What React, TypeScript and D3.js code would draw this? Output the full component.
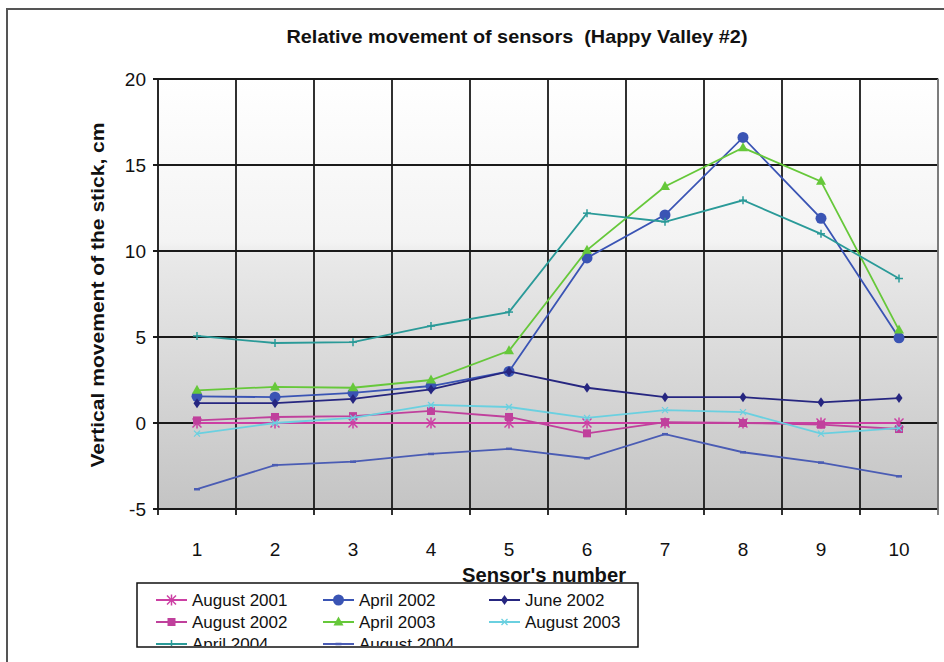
import React from "react";
import * as d3 from "d3";

const sensors = [1, 2, 3, 4, 5, 6, 7, 8, 9, 10];
const yTicks = [-5, 0, 5, 10, 15, 20];

const aug2001 = [0, 0, 0, 0, 0, 0, 0, 0, 0, 0];
const apr2002 = [1.55, 1.5, 1.75, 2.15, 3.0, 9.6, 12.1, 16.6, 11.9, 4.95];
const jun2002 = [1.15, 1.15, 1.4, 1.95, 3.0, 2.05, 1.5, 1.5, 1.2, 1.45];
const aug2002 = [0.15, 0.35, 0.4, 0.7, 0.35, -0.6, 0.05, 0.0, -0.1, -0.35];
const apr2003 = [1.9, 2.1, 2.05, 2.5, 4.2, 10.05, 13.75, 16.0, 14.05, 5.4];
const aug2003 = [-0.62, 0.0, 0.3, 1.05, 0.93, 0.3, 0.75, 0.63, -0.62, -0.3];
const apr2004 = [5.06, 4.65, 4.7, 5.64, 6.45, 12.2, 11.7, 12.95, 11.0, 8.4];
const aug2004 = [-3.85, -2.45, -2.25, -1.8, -1.5, -2.05, -0.65, -1.7, -2.3, -3.1];

const seriesNames = [
  "August 2001",
  "April 2002",
  "June 2002",
  "August 2002",
  "April 2003",
  "August 2003",
  "April 2004",
  "August 2004",
];
const seriesValues = [aug2001, apr2002, jun2002, aug2002, apr2003, aug2003, apr2004, aug2004];
const seriesColors = ["#cc3fa3", "#3a54b4", "#262680", "#c0409c", "#66c83a", "#6ad0e0", "#2a9a98", "#4a5cb4"];
const seriesMarkers = ["asterisk", "circle", "diamond", "square", "triangle", "x", "plus", "dash"];

const M = { left: 158, right: 938, top: 79, bottom: 509 };

function Marker({ type, x, y, color }: { type: string; x: number; y: number; color: string }) {
  switch (type) {
    case "asterisk":
      return (
        <g stroke={color} strokeWidth={1.5}>
          <line x1={x - 4.5} y1={y - 4.5} x2={x + 4.5} y2={y + 4.5} />
          <line x1={x - 4.5} y1={y + 4.5} x2={x + 4.5} y2={y - 4.5} />
          <line x1={x} y1={y - 5.5} x2={x} y2={y + 5.5} />
        </g>
      );
    case "circle":
      return <circle cx={x} cy={y} r={5.5} fill={color} />;
    case "diamond":
      return <path d={`M${x},${y - 5}L${x + 3.5},${y}L${x},${y + 5}L${x - 3.5},${y}Z`} fill={color} />;
    case "square":
      return <rect x={x - 4} y={y - 4} width={8} height={8} fill={color} />;
    case "triangle":
      return <path d={`M${x},${y - 5.5}L${x + 5},${y + 3.5}L${x - 5},${y + 3.5}Z`} fill={color} />;
    case "x":
      return (
        <g stroke={color} strokeWidth={1.3}>
          <line x1={x - 3} y1={y - 3} x2={x + 3} y2={y + 3} />
          <line x1={x - 3} y1={y + 3} x2={x + 3} y2={y - 3} />
        </g>
      );
    case "plus":
      return (
        <g stroke={color} strokeWidth={1.5}>
          <line x1={x} y1={y - 4} x2={x} y2={y + 4} />
          <line x1={x - 4} y1={y} x2={x + 4} y2={y} />
        </g>
      );
    case "dash":
      return <line x1={x - 3} y1={y} x2={x + 3} y2={y} stroke={color} strokeWidth={2.5} />;
    default:
      return null;
  }
}

export default function App() {
  const x = d3
    .scaleBand<number>()
    .domain(sensors)
    .range([M.left, M.right]);
  const cx = (s: number) => (x(s) as number) + x.bandwidth() / 2;
  const y = d3.scaleLinear().domain([-5, 20]).range([M.bottom, M.top]);
  const line = d3
    .line<number>()
    .x((_, i) => cx(sensors[i]))
    .y((d) => y(d));

  const gridX = sensors.map((s) => x(s) as number).concat([M.right]);

  const legendItems = seriesNames.map((name, i) => ({
    name,
    color: seriesColors[i],
    marker: seriesMarkers[i],
    col: i % 3,
    row: Math.floor(i / 3),
  }));
  const legendColX = [156, 323, 489];
  const legendRowY = [600, 622, 644];

  const font = "'Liberation Sans', Arial, sans-serif";

  return (
    <svg
      width={944}
      height={662}
      style={{ position: "absolute", left: 0, top: 0, background: "#fff" }}
      fontFamily={font}
    >
      <defs>
        <linearGradient id="bg" x1="0" y1="0" x2="0" y2="1">
          <stop offset="0" stopColor="#ffffff" />
          <stop offset="0.38" stopColor="#f3f3f3" />
          <stop offset="0.41" stopColor="#e9e9e9" />
          <stop offset="1" stopColor="#c4c4c4" />
        </linearGradient>
        <clipPath id="legclip">
          <rect x={138} y={584} width={499} height={62} />
        </clipPath>
      </defs>

      {/* outer chart border */}
      <rect x={7} y={9} width={960} height={700} fill="none" stroke="#555" strokeWidth={2} />

      {/* title */}
      <text
        x={517}
        y={43}
        textAnchor="middle"
        fontSize={19}
        fontWeight="bold"
        fill="#111"
        textLength={461}
        lengthAdjust="spacingAndGlyphs"
        style={{ whiteSpace: "pre" }}
      >
        Relative movement of sensors  (Happy Valley #2)
      </text>

      {/* plot background */}
      <rect
        x={M.left}
        y={M.top}
        width={M.right - M.left}
        height={M.bottom - M.top}
        fill="url(#bg)"
        stroke="#999"
        strokeWidth={1.5}
      />

      {/* horizontal grid */}
      {yTicks.map((t) => (
        <line key={"h" + t} x1={M.left - 5} x2={M.right} y1={y(t)} y2={y(t)} stroke="#1a1a1a" strokeWidth={1.8} />
      ))}
      {/* vertical grid */}
      {gridX.map((gx, i) => (
        <line
          key={"v" + i}
          x1={gx}
          x2={gx}
          y1={M.top}
          y2={M.bottom + 6}
          stroke={i === gridX.length - 1 ? "#777" : "#1a1a1a"}
          strokeWidth={1.8}
        />
      ))}

      {/* y tick labels */}
      {yTicks.map((t) => (
        <text key={"yl" + t} x={146} y={y(t) + 7} textAnchor="end" fontSize={19} fill="#111">
          {t}
        </text>
      ))}
      {/* x tick labels */}
      {sensors.map((s) => (
        <text key={"xl" + s} x={cx(s)} y={556} textAnchor="middle" fontSize={19} fill="#111">
          {s}
        </text>
      ))}

      {/* axis titles */}
      <text
        transform={`translate(104,295) rotate(-90)`}
        textAnchor="middle"
        fontSize={19}
        fontWeight="bold"
        fill="#111"
        textLength={345}
        lengthAdjust="spacingAndGlyphs"
      >
        Vertical movement of the stick, cm
      </text>
      <text
        x={544}
        y={582}
        textAnchor="middle"
        fontSize={20}
        fontWeight="bold"
        fill="#111"
        textLength={164}
        lengthAdjust="spacingAndGlyphs"
      >
        Sensor's number
      </text>

      {/* series */}
      {seriesValues.map((vals, si) => (
        <g key={"s" + si}>
          <path d={line(vals) || ""} fill="none" stroke={seriesColors[si]} strokeWidth={1.8} />
          {vals.map((v, i) => (
            <Marker key={i} type={seriesMarkers[si]} x={cx(sensors[i])} y={y(v)} color={seriesColors[si]} />
          ))}
        </g>
      ))}

      {/* legend */}
      <rect x={137} y={583} width={501} height={64} fill="#fff" stroke="#111" strokeWidth={1.5} />
      <g clipPath="url(#legclip)">
        {legendItems.map((it) => {
          const lx = legendColX[it.col];
          const ly = legendRowY[it.row];
          return (
            <g key={it.name}>
              <line x1={lx} x2={lx + 31} y1={ly} y2={ly} stroke={it.color} strokeWidth={2} />
              <Marker type={it.marker} x={lx + 15.5} y={ly} color={it.color} />
              <text x={lx + 36} y={ly + 6} fontSize={17} fill="#111">
                {it.name}
              </text>
            </g>
          );
        })}
      </g>
    </svg>
  );
}
